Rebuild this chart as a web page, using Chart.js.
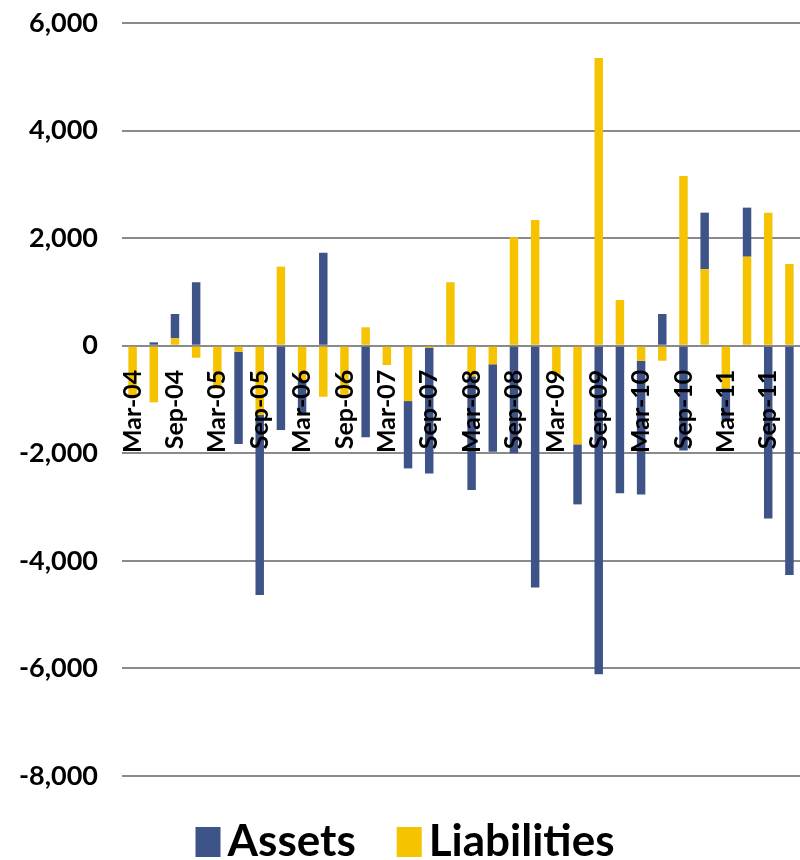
<!DOCTYPE html>
<html>
<head>
<meta charset="utf-8">
<title>Assets and Liabilities</title>
<script src="https://cdn.jsdelivr.net/npm/chart.js@4.4.1/dist/chart.umd.min.js"></script>
<style>
  html, body { margin: 0; padding: 0; background: #ffffff; }
  #wrap { width: 800px; height: 860px; position: relative; }
</style>
</head>
<body>
<div id="wrap"><canvas id="chart" width="800" height="860"></canvas></div>
<script>
// Quarterly categories, Mar-04 through Dec-11
const categories = [
  'Mar-04', 'Jun-04', 'Sep-04', 'Dec-04',
  'Mar-05', 'Jun-05', 'Sep-05', 'Dec-05',
  'Mar-06', 'Jun-06', 'Sep-06', 'Dec-06',
  'Mar-07', 'Jun-07', 'Sep-07', 'Dec-07',
  'Mar-08', 'Jun-08', 'Sep-08', 'Dec-08',
  'Mar-09', 'Jun-09', 'Sep-09', 'Dec-09',
  'Mar-10', 'Jun-10', 'Sep-10', 'Dec-10',
  'Mar-11', 'Jun-11', 'Sep-11', 'Dec-11'
];

// Quarterly flows
const assets = [
  0, 63, 453, 1180,
  0, -1718, -3348, -1568,
  -640, 1730, 0, -1704,
  0, -1252, -2334, 0,
  -2114, -1625, -2000, -4494,
  0, -1116, -6106, -2745,
  -2485, 590, -1950, 1053,
  -600, 912, -3211, -4265
];

const liabilities = [
  -950, -1053, 137, -223,
  -800, -110, -1289, 1470,
  -650, -949, -950, 342,
  -359, -1029, -40, 1180,
  -570, -346, 2016, 2338,
  -550, -1834, 5351, 850,
  -279, -279, 3156, 1421,
  -792, 1655, 2474, 1520
];

// Value axis ticks
const yTicks = [-8000, -6000, -4000, -2000, 0, 2000, 4000, 6000];

const BLUE = '#3E5387';
const YELLOW = '#F5C300';
const GRID = '#8A8A8A';

// Legend drawn under the plot: square swatch, then the label
const bottomLegend = {
  id: 'bottomLegend',
  afterDraw(chart) {
    const ctx = chart.ctx;
    const items = [
      { label: 'Assets', color: BLUE },
      { label: 'Liabilities', color: YELLOW }
    ];
    const boxW = 25, boxH = 30, textGap = 7, itemGap = 41;
    ctx.save();
    ctx.font = 'bold 44px Lato';
    const widths = items.map(it => ctx.measureText(it.label).width);
    let total = 0;
    items.forEach((it, i) => { total += boxW + textGap + widths[i]; });
    total += itemGap * (items.length - 1);
    let x = chart.width / 2 + 5 - total / 2;
    const baseline = 856;
    items.forEach((it, i) => {
      ctx.fillStyle = it.color;
      ctx.fillRect(x, baseline - boxH + 1, boxW, boxH);
      ctx.fillStyle = '#000000';
      ctx.textAlign = 'left';
      ctx.textBaseline = 'alphabetic';
      ctx.fillText(it.label, x + boxW + textGap, baseline);
      x += boxW + textGap + widths[i] + itemGap;
    });
    ctx.restore();
  }
};

// Keep the plot edges fixed: no extra room for label overhang
const noOverhang = (scale) => {
  scale.paddingLeft = 0;
  scale.paddingRight = 0;
  scale.paddingTop = 0;
  scale.paddingBottom = 0;
};

new Chart(document.getElementById('chart'), {
  type: 'bar',
  data: {
    labels: categories,
    datasets: [
      {
        label: 'Liabilities',
        data: liabilities,
        backgroundColor: YELLOW,
        borderWidth: 0,
        barPercentage: 0.4,
        categoryPercentage: 1.0
      },
      {
        label: 'Assets',
        data: assets,
        backgroundColor: BLUE,
        borderWidth: 0,
        barPercentage: 0.4,
        categoryPercentage: 1.0
      }
    ]
  },
  options: {
    responsive: false,
    animation: false,
    devicePixelRatio: 1,
    layout: { padding: { top: 23, bottom: 84, left: 0, right: 0 } },
    plugins: {
      legend: { display: false },
      tooltip: { enabled: false },
      title: { display: false }
    },
    scales: {
      x: {
        stacked: true,
        position: { y: 0 },
        afterFit: noOverhang,
        grid: { display: false, drawTicks: false },
        border: { display: false },
        ticks: {
          z: 1,
          autoSkip: false,
          maxRotation: 90,
          minRotation: 90,
          padding: 24,
          color: '#000000',
          font: { family: 'Lato', size: 25, weight: 'bold' },
          callback: (value, index) => (index % 2 === 0 ? categories[index] : '')
        }
      },
      y: {
        stacked: true,
        min: yTicks[0],
        max: yTicks[yTicks.length - 1],
        afterBuildTicks: (scale) => { scale.ticks = yTicks.map(v => ({ value: v })); },
        afterFit: (scale) => { scale.width = 122; noOverhang(scale); },
        grid: { color: GRID, lineWidth: 2, drawTicks: false },
        border: { display: false },
        ticks: {
          padding: 24,
          color: '#000000',
          font: { family: 'Lato', size: 27, weight: 'bold' },
          callback: (value) => value.toLocaleString('en-US')
        }
      }
    }
  },
  plugins: [bottomLegend]
});
</script>
</body>
</html>
